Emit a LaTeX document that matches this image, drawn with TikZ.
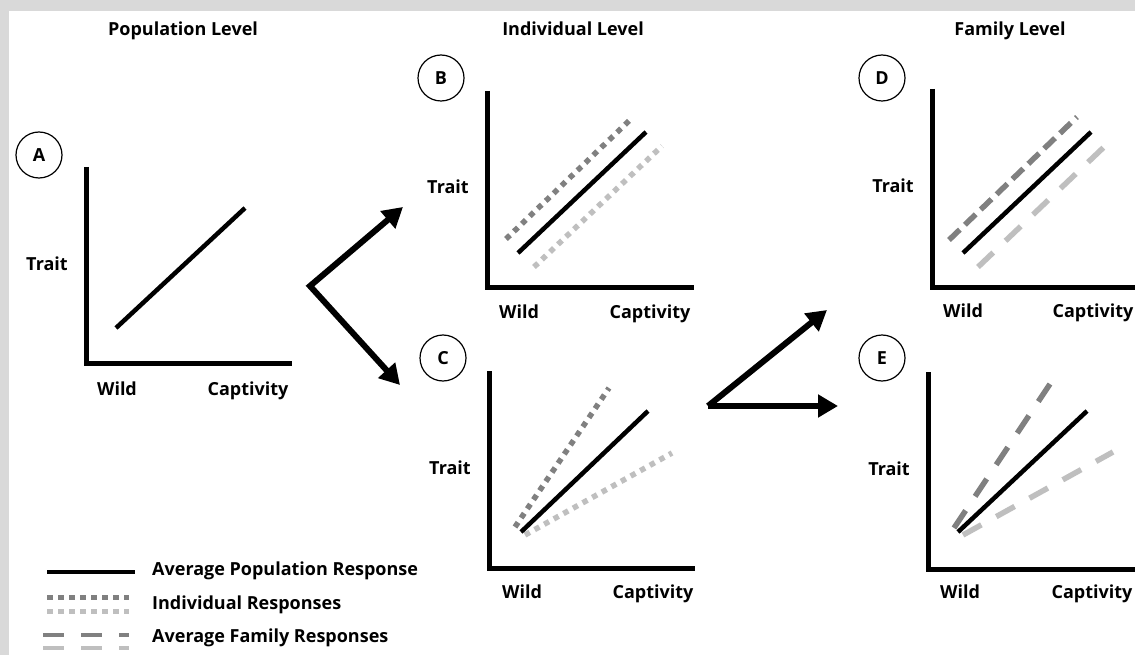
\documentclass[tikz,border=0pt]{standalone}
\usepackage{fontspec}
\setmainfont{Open Sans}
\usetikzlibrary{arrows.meta}
\definecolor{dkg}{HTML}{808080}
\definecolor{ltg}{HTML}{BFBFBF}
\definecolor{band}{HTML}{D9D9D9}
\tikzset{
  txt/.style={font=\fontsize{18}{21}\selectfont\bfseries, inner sep=0pt, anchor=base},
  badge/.style={circle, draw, line width=1.2pt, minimum size=46pt, inner sep=0pt, font=\fontsize{18}{21}\selectfont\bfseries},
  axis/.style={line width=5pt, line join=miter, line cap=butt},
  avg/.style={line width=4.5pt, line cap=butt},
  dotdk/.style={line width=5.5pt, dkg, dash pattern=on 5.5pt off 5.5pt},
  dotlt/.style={line width=5.5pt, ltg, dash pattern=on 5.5pt off 5.5pt},
  dashdk/.style={line width=5.5pt, dkg, dash pattern=on 21pt off 17pt},
  dashlt/.style={line width=5.5pt, ltg, dash pattern=on 21pt off 17pt},
  dashdense/.style={line width=5.5pt, dkg, dash pattern=on 15pt off 7pt},
  bigarrow/.style={line width=6pt, line cap=butt, {Triangle[length=20pt,width=22pt]}-{Triangle[length=20pt,width=22pt]}, line join=miter},
  onearrow/.style={line width=6pt, line cap=butt, -{Triangle[length=20pt,width=22pt]}}
}
\begin{document}
\begin{tikzpicture}[x=1pt,y=-1pt]
\useasboundingbox (0,0) rectangle (1135,655);
\fill[white] (0,0) rectangle (1135,655);
\fill[band] (0,0) rectangle (1135,11);
\fill[band] (0,0) rectangle (9,655);

% titles
\node[txt] (t1) at (183,36) {Population Level};
\node[txt] (t2) at (573,36) {Individual Level};
\node[txt] (t3) at (1010,36) {Family Level};

% ---------- Panel A
\node[badge] (bA) at (39,155) {A};
\draw[axis] (86,167) -- (86,363) -- (292,363);
\draw[avg] (116,328) -- (245,208);
\node[txt] (yA) at (47,270) {Trait};
\node[txt] (wA) at (117,395) {Wild};
\node[txt] (cA) at (248,395) {Captivity};

% ---------- Panel B
\node[badge] (bB) at (441,78) {B};
\draw[axis] (487,91) -- (487,287) -- (694,287);
\draw[dotdk] (506,239) -- (632,118);
\draw[dotlt] (534,267) -- (662,146);
\draw[avg] (518,253) -- (646,132);
\node[txt] (yB) at (448,194) {Trait};
\node[txt] (wB) at (519,318) {Wild};
\node[txt] (cB) at (650,318) {Captivity};

% ---------- Panel C
\node[badge] (bC) at (443,358) {C};
\draw[axis] (489,371) -- (489,568) -- (695,568);
\draw[dotdk] (515,527) -- (609,388);
\draw[dotlt] (525,535) -- (672,453);
\draw[avg] (521,532) -- (648,411);
\node[txt] (yC) at (450,474) {Trait};
\node[txt] (wC) at (522,598) {Wild};
\node[txt] (cC) at (653,598) {Captivity};

% ---------- Panel D
\node[badge] (bD) at (882,78) {D};
\draw[axis] (932,89) -- (932,287) -- (1136,287);
\draw[dashdense] (949,240) -- (1077,117);
\draw[dashlt] (978,267) -- (1104,147);
\draw[avg] (963,253) -- (1091,132);
\node[txt] (yD) at (893,193) {Trait};
\node[txt] (wD) at (963,317) {Wild};
\node[txt] (cD) at (1093,317) {Captivity};

% ---------- Panel E
\node[badge] (bE) at (882,358) {E};
\draw[axis] (928,372) -- (928,569) -- (1136,569);
\draw[dashdk] (954,528) -- (1050,384);
\draw[dashlt] (963,535) -- (1113,452);
\draw[avg] (958,532) -- (1087,411);
\node[txt] (yE) at (889,475) {Trait};
\node[txt] (wE) at (960,598) {Wild};
\node[txt] (cE) at (1092,598) {Captivity};

% ---------- arrows
\coordinate (v1) at (310,286);
\coordinate (a1) at (403,207);
\coordinate (a2) at (400,385);
\draw[bigarrow] (a1) -- (v1) -- (a2);
\coordinate (v2) at (708,406);
\coordinate (a3) at (827,310);
\coordinate (a4) at (838,406);
\draw[onearrow] (v2) -- (a3);
\draw[onearrow] (v2) -- (a4);

% ---------- legend
\coordinate (l1a) at (47,572); \coordinate (l1b) at (135,572);
\draw[avg] (l1a) -- (l1b);
\coordinate (l2a) at (47,597); \coordinate (l2b) at (129,597);
\draw[line width=5pt, dkg, dash pattern=on 5.5pt off 5.5pt] (l2a) -- (l2b);
\coordinate (l3a) at (47,611); \coordinate (l3b) at (129,611);
\draw[line width=5pt, ltg, dash pattern=on 5.5pt off 5.5pt] (l3a) -- (l3b);
\coordinate (l4a) at (43,635); \coordinate (l4b) at (129,635);
\draw[line width=4.5pt, dkg, dash pattern=on 21pt off 17pt] (l4a) -- (l4b);
\coordinate (l5a) at (43,648); \coordinate (l5b) at (129,648);
\draw[line width=4.5pt, ltg, dash pattern=on 21pt off 17pt] (l5a) -- (l5b);
\node[txt, anchor=base west] (g1) at (152,575) {Average Population Response};
\node[txt, anchor=base west] (g2) at (152,609) {Individual Responses};
\node[txt, anchor=base west] (g3) at (152,642) {Average Family Responses};
\end{tikzpicture}
\end{document}
